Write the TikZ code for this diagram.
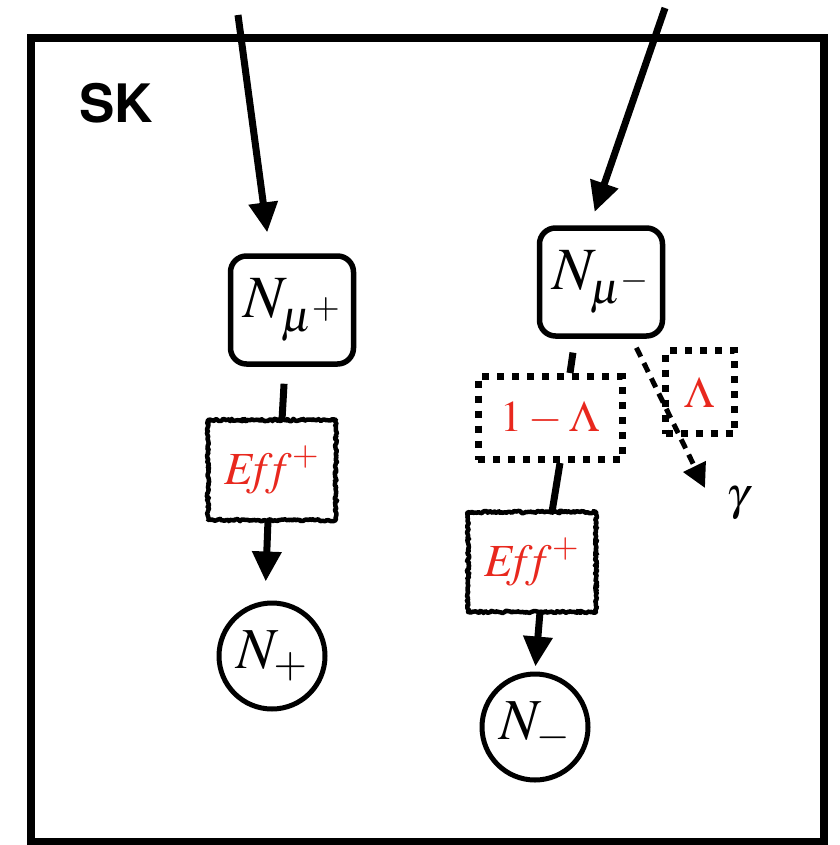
\documentclass[tikz,border=0pt]{standalone}
\usepackage{mathptmx}
\usepackage{fontspec}
\newfontfamily\skfont{TeX Gyre Heros}
\usetikzlibrary{arrows.meta,decorations.pathmorphing,calc}
\definecolor{myred}{RGB}{232,40,30}
\tikzset{
  rbox/.style={draw,line width=5.5pt,rounded corners=16pt,minimum width=123pt,minimum height=108pt,inner sep=0pt,font=\fontsize{60}{66}\selectfont},
  effbox/.style={line width=4pt,minimum width=124pt,minimum height=96pt,inner sep=0pt,text=myred,font=\fontsize{46}{50}\selectfont,
     append after command={\pgfextra{\draw[line width=4.5pt,line join=round,decorate,decoration={random steps,segment length=1.6pt,amplitude=1.2pt}] (\tikzlastnode.south west) rectangle (\tikzlastnode.north east);}}},
  dotbox/.style={draw,line width=7pt,dash pattern=on 7pt off 8pt,inner sep=0pt,text=myred,font=\fontsize{44}{50}\selectfont},
  cnode/.style={draw,circle,line width=5pt,minimum size=106pt,inner sep=0pt,font=\fontsize{58}{64}\selectfont},
  arr/.style={line width=7pt,-{Triangle[length=30pt,width=28pt]}},
  plain/.style={line width=7pt},
  darr/.style={line width=5pt,dash pattern=on 10pt off 7pt,-{Triangle[length=24pt,width=24pt]}}
}
\begin{document}
\begin{tikzpicture}[x=1pt,y=-1pt]
\useasboundingbox (0,0) rectangle (839,845);
\draw[line width=8.5pt] (31,842) -- (31,38) -- (824,38) -- (824,842) -- cycle;
\node (sk) at (116,103) {\skfont\bfseries\fontsize{53}{60}\selectfont SK};

\node[rbox] (mup) at (292,310) {$N_{\mu^+}$};
\node[effbox] (eff1) at (272,470) {$\mathit{Ef{}f}^{+}$};
\node[cnode] (np) at (272,656) {$N_{+}$};

\node[rbox] (mum) at (601,282) {$N_{\mu^-}$};
\node[dotbox,minimum width=144pt,minimum height=83pt] (oml) at (550,418) {$1-\Lambda$};
\node[dotbox,minimum width=69pt,minimum height=83pt] (lam) at (700,392) {$\Lambda$};
\node[effbox] (eff2) at (532,562) {$\mathit{Ef{}f}^{+}$};
\node[cnode] (nm) at (535,727) {$N_{-}$};
\node[font=\fontsize{46}{50}\selectfont] (gam) at (738,503) {$\gamma$};

\coordinate (in1) at (238,15);
\coordinate (in2) at (665,8);

\draw[arr,shorten >=21pt] (in1) -- ([xshift=-22pt]mup.north);
\draw[arr,shorten >=14pt] (in2) -- ([xshift=-11pt]mum.north);
\draw[plain,shorten <=17pt] ([xshift=-7pt]mup.south) -- ([xshift=10pt]eff1.north);
\draw[arr,shorten >=19pt] ([xshift=-4pt]eff1.south) -- ([xshift=-7pt]np.north);
\draw[plain,shorten <=14pt] ([xshift=-26pt]mum.south) -- ([xshift=20pt]oml.north);
\draw[plain] ([xshift=10pt]oml.south) -- ([xshift=20pt]eff2.north);
\draw[arr,shorten >=5pt] ([xshift=8pt]eff2.south) -- (nm.north);
\draw[darr,shorten <=10pt] ([xshift=31pt]mum.south) -- ([shift={(-33,-15)}]gam.center);
\end{tikzpicture}
\end{document}
